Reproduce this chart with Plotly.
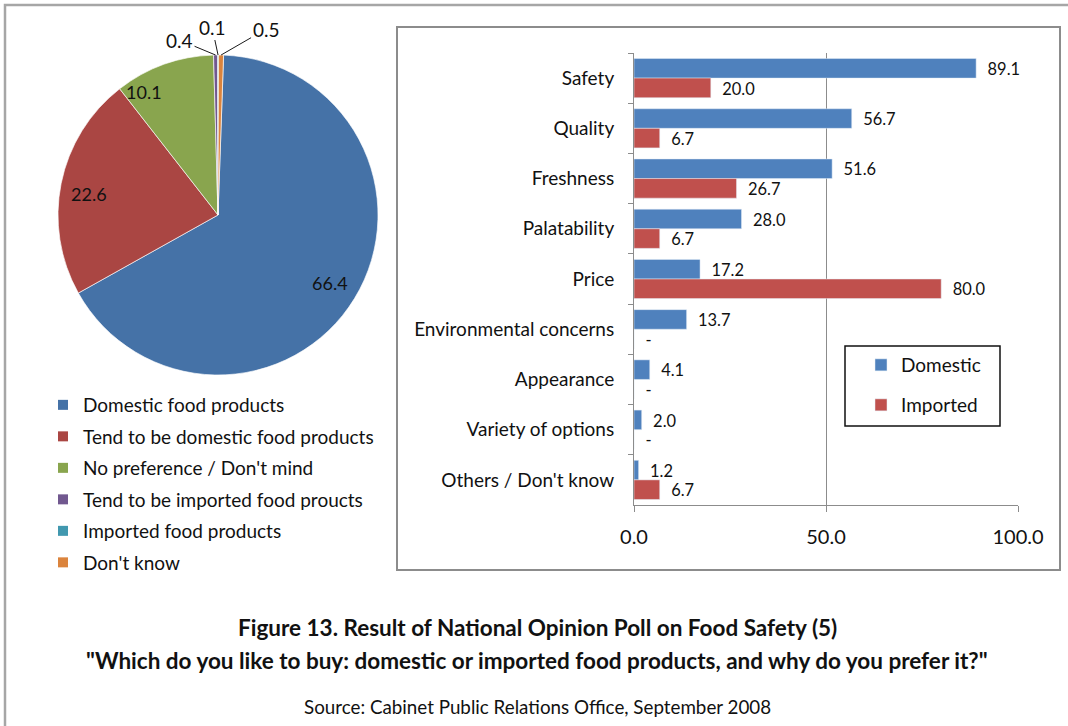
import math
import plotly.graph_objects as go

W, H = 1068, 726

# ---------------- data ----------------
pie_labels = ["Domestic food products", "Tend to be domestic food products",
              "No preference / Don't mind", "Tend to be imported food proucts",
              "Imported food products", "Don't know"]
pie_values = [66.4, 22.6, 10.1, 0.4, 0.1, 0.5]
pie_colors = ["#4572A7", "#AA4643", "#89A54E", "#71588F", "#4198AF", "#DB843D"]

categories = ["Safety", "Quality", "Freshness", "Palatability", "Price",
              "Environmental concerns", "Appearance", "Variety of options",
              "Others / Don't know"]
domestic = [89.1, 56.7, 51.6, 28.0, 17.2, 13.7, 4.1, 2.0, 1.2]
imported = [20.0, 6.7, 26.7, 6.7, 80.0, None, None, None, 6.7]
x_ticks = [0, 50, 100]
x_tick_labels = ["0.0", "50.0", "100.0"]

title1 = "Figure 13. Result of National Opinion Poll on Food Safety (5)"
title2 = "\"Which do you like to buy: domestic or imported food products, and why do you prefer it?\""
source = "Source: Cabinet Public Relations Office, September 2008"

# ---------------- helpers ----------------
FONT = "Lato, Carlito, Calibri, 'Open Sans', sans-serif"
TXT = "#111111"


def X(px):
    return px / W


def Y(py):
    return 1 - py / H


PIE_CX, PIE_CY, PIE_R = 218, 215, 160
PIE_ROT = 2

fig = go.Figure()

# ---------------- pie ----------------
fig.add_trace(go.Pie(
    labels=pie_labels, values=pie_values, sort=False, direction="clockwise",
    rotation=PIE_ROT,
    marker=dict(colors=pie_colors, line=dict(color="rgba(255,255,255,0.8)", width=0.8)),
    textinfo="none",
    domain=dict(x=[X(PIE_CX - PIE_R), X(PIE_CX + PIE_R)],
                y=[Y(PIE_CY + PIE_R), Y(PIE_CY - PIE_R)]),
    showlegend=False, hoverinfo="label+value",
))

# legend entries for the pie slices
for i, (lab, col) in enumerate(zip(pie_labels, pie_colors)):
    fig.add_trace(go.Scatter(
        x=[None], y=[None], mode="markers", name=lab,
        marker=dict(symbol="square", size=10, color=col),
        legendgroup=f"p{i}", legend="legend", showlegend=True,
    ))

# slice value labels placed at each slice's mid-angle
total = sum(pie_values)
outside_offsets = {3: (-36, -15), 4: (-6, -28), 5: (45, -26)}
inside_nudge = {2: (-30, 0), 1: (0, -5)}
cum = 0.0
for i, v in enumerate(pie_values):
    mid = PIE_ROT + (cum + v / 2) * 360 / total
    cum += v
    a = math.radians(mid)
    if i in outside_offsets:
        tx = PIE_CX + PIE_R * math.sin(a)
        ty = PIE_CY - PIE_R * math.cos(a)
        ax, ay = outside_offsets[i]
        fig.add_annotation(
            x=X(tx), y=Y(ty), xref="paper", yref="paper",
            text=f"{v:.1f}", showarrow=True, arrowhead=0, arrowwidth=1,
            arrowcolor="#1a1a1a", ax=ax, ay=ay, standoff=0,
            font=dict(family=FONT, size=19, color=TXT),
        )
    else:
        rr = 0.82 * PIE_R
        tx = PIE_CX + rr * math.sin(a)
        ty = PIE_CY - rr * math.cos(a)
        dx, dy = inside_nudge.get(i, (0, 0))
        fig.add_annotation(
            x=X(tx), y=Y(ty), xref="paper", yref="paper",
            xanchor="center", yanchor="middle",
            text=f"{v:.1f}", showarrow=False, xshift=dx, yshift=dy,
            font=dict(family=FONT, size=18, color=TXT),
        )

# ---------------- bars ----------------
imp_x = [v if v is not None else 0 for v in imported]
imp_text = ["\u00a0\u00a0" + (f"{v:.1f}" if v is not None else "-") for v in imported]
dom_text = ["\u00a0\u00a0" + f"{v:.1f}" for v in domestic]

fig.add_trace(go.Bar(
    y=categories, x=domestic, orientation="h", name="Domestic",
    marker=dict(color="#4F81BD"), text=dom_text, textposition="outside",
    cliponaxis=False, textfont=dict(family=FONT, size=21, color=TXT),
    legend="legend2", legendgroup="d",
))
fig.add_trace(go.Bar(
    y=categories, x=imp_x, orientation="h", name="Imported",
    marker=dict(color="#C0504D"), text=imp_text, textposition="outside",
    cliponaxis=False, textfont=dict(family=FONT, size=21, color=TXT),
    legend="legend2", legendgroup="i",
))

fig.update_layout(
    width=W, height=H,
    margin=dict(l=0, r=0, t=0, b=0, pad=0, autoexpand=False),
    paper_bgcolor="white", plot_bgcolor="rgba(0,0,0,0)",
    font=dict(family=FONT, size=19, color=TXT),
    barmode="group", bargap=0.22, bargroupgap=0,
    xaxis=dict(domain=[X(634), X(1018)], range=[0, 100], tickvals=x_ticks,
               ticktext=x_tick_labels, showgrid=True, gridcolor="#8c8c8c",
               gridwidth=1, zeroline=False, showline=True, linecolor="#8c8c8c",
               linewidth=1, ticks="outside", ticklen=6, tickcolor="#8c8c8c",
               tickfont=dict(family=FONT, size=20, color=TXT),
               ticklabelstandoff=8, fixedrange=True, automargin=False),
    yaxis=dict(domain=[Y(505), Y(53)], autorange="reversed", type="category",
               showgrid=False, zeroline=False, showline=True,
               linecolor="#8c8c8c", linewidth=1, ticks="outside",
               tickson="boundaries", ticklen=5, tickcolor="#8c8c8c",
               tickfont=dict(family=FONT, size=19, color=TXT),
               ticklabelstandoff=15, fixedrange=True, automargin=False),
    legend=dict(x=X(43), y=Y(386), xanchor="left", yanchor="top",
                bgcolor="rgba(0,0,0,0)", borderwidth=0, tracegroupgap=3.8,
                font=dict(family=FONT, size=19, color=TXT), itemclick=False),
    legend2=dict(x=X(861), y=Y(346), xanchor="left", yanchor="top",
                 bgcolor="rgba(0,0,0,0)", borderwidth=0, tracegroupgap=12.3,
                 font=dict(family=FONT, size=19, color=TXT), itemclick=False),
    showlegend=True,
)

# frames
fig.add_shape(type="rect", xref="paper", yref="paper",
              x0=X(5), x1=X(1075), y0=Y(735), y1=Y(5),
              line=dict(color="#a6a6a6", width=2.5), layer="below")
fig.add_shape(type="rect", xref="paper", yref="paper",
              x0=X(397), x1=X(1060), y0=Y(570), y1=Y(27),
              line=dict(color="#8c8c8c", width=2), layer="below")
fig.add_shape(type="rect", xref="paper", yref="paper",
              x0=X(845), x1=X(1000), y0=Y(426), y1=Y(346),
              line=dict(color="#111111", width=1.5), layer="below")

# titles
for txt, py, size in [(f"<b>{title1}</b>", 627, 22.5),
                      (f"<b>{title2}</b>", 660, 22.5),
                      (source, 706, 18.8)]:
    fig.add_annotation(x=X(537), y=Y(py), xref="paper", yref="paper",
                       xanchor="center", yanchor="middle",
                       text=txt, showarrow=False,
                       font=dict(family=FONT, size=size, color=TXT))

fig.write_html(
    "out.html",
    config={"displayModeBar": False},
    post_script="document.body.style.margin='0';document.body.style.overflow='hidden';",
)
